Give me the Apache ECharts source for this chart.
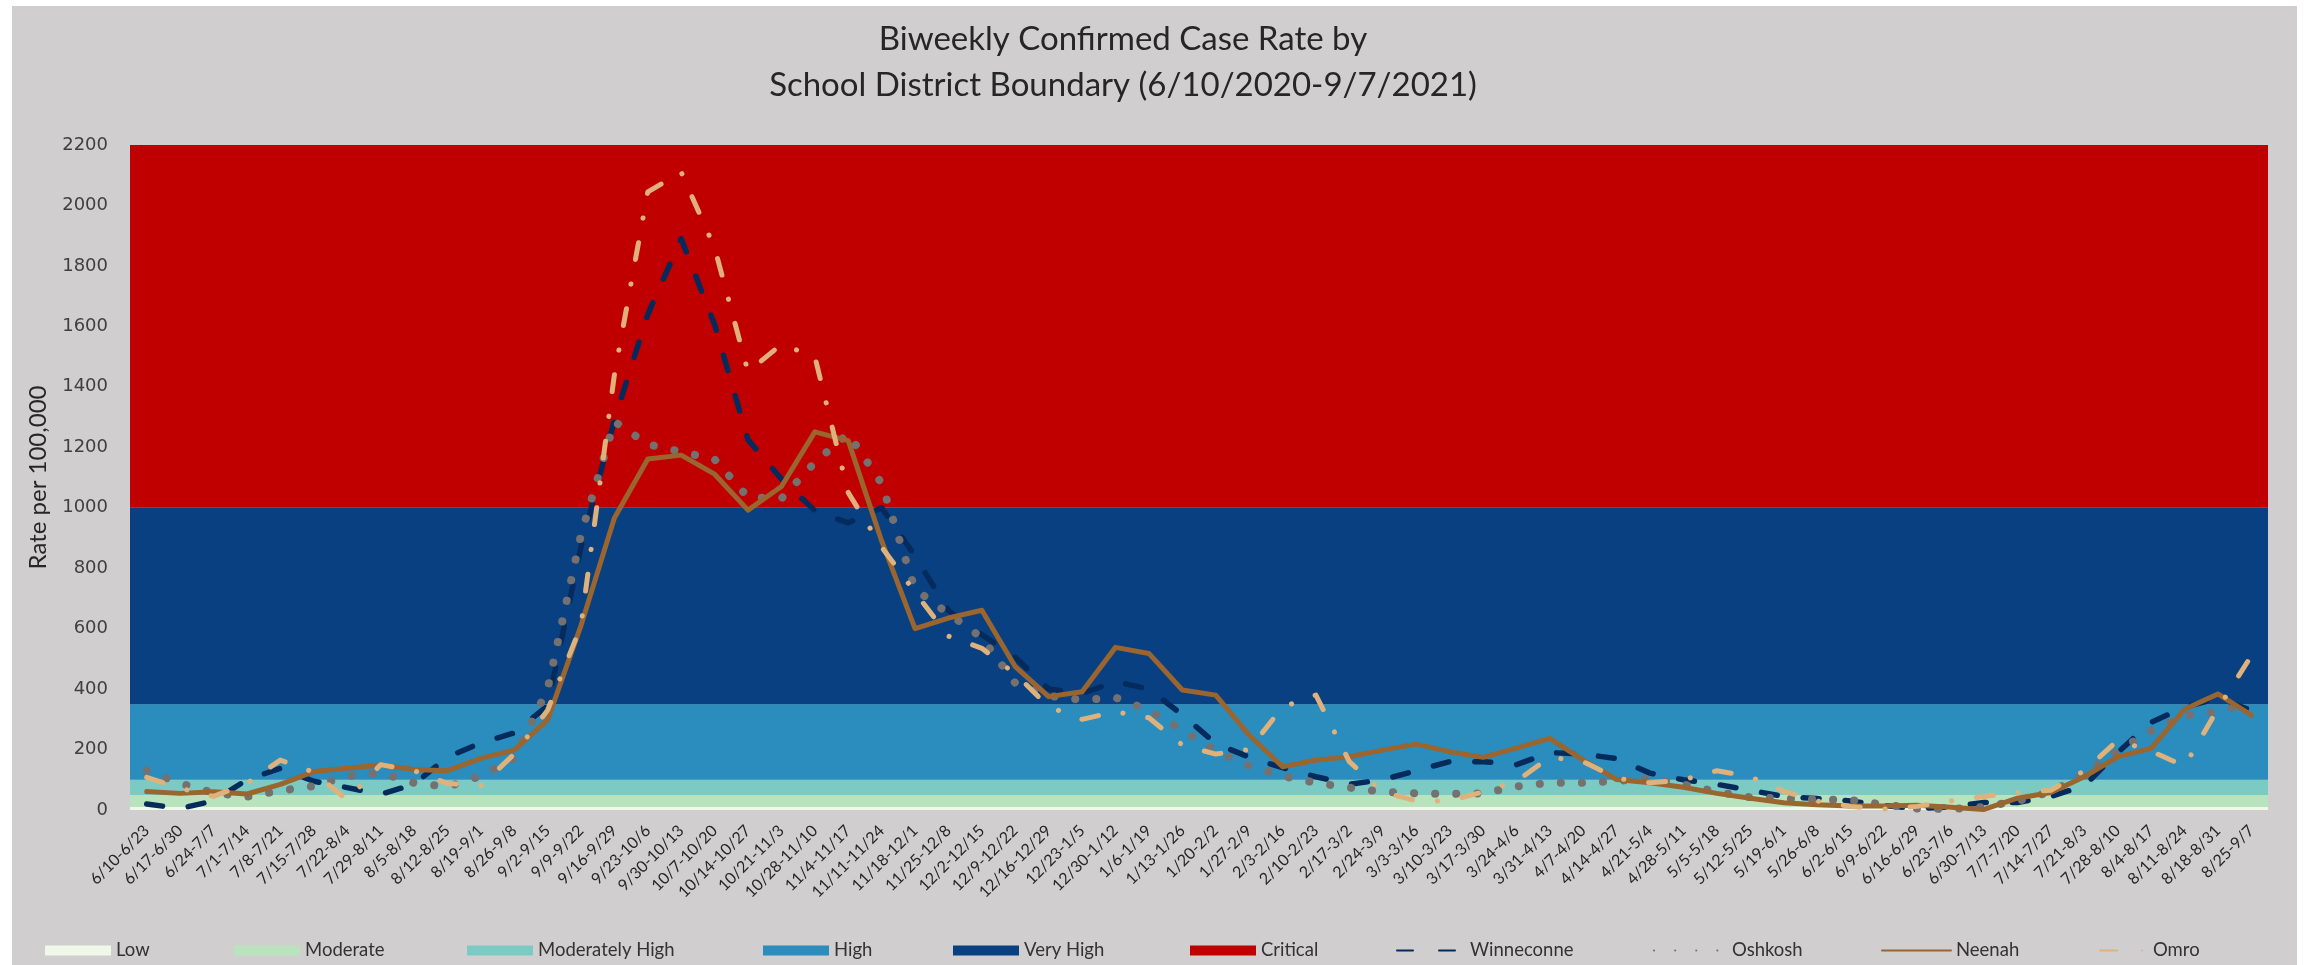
<!DOCTYPE html>
<html>
<head>
<meta charset="utf-8">
<script src="https://cdn.jsdelivr.net/npm/echarts@6/dist/echarts.min.js"></script>
<style>
  html, body { margin:0; padding:0; background:#ffffff; }
  #bg { position:absolute; left:12px; top:6px; width:2285px; height:959px; background:#D0CECE; }
  #chart { position:absolute; left:0; top:0; width:2317px; height:965px; }
</style>
</head>
<body>
<div id="bg"></div>
<div id="chart"></div>
<script>
const categories = ['6/10-6/23','6/17-6/30','6/24-7/7','7/1-7/14','7/8-7/21','7/15-7/28','7/22-8/4','7/29-8/11','8/5-8/18','8/12-8/25','8/19-9/1','8/26-9/8','9/2-9/15','9/9-9/22','9/16-9/29','9/23-10/6','9/30-10/13','10/7-10/20','10/14-10/27','10/21-11/3','10/28-11/10','11/4-11/17','11/11-11/24','11/18-12/1','11/25-12/8','12/2-12/15','12/9-12/22','12/16-12/29','12/23-1/5','12/30-1/12','1/6-1/19','1/13-1/26','1/20-2/2','1/27-2/9','2/3-2/16','2/10-2/23','2/17-3/2','2/24-3/9','3/3-3/16','3/10-3/23','3/17-3/30','3/24-4/6','3/31-4/13','4/7-4/20','4/14-4/27','4/21-5/4','4/28-5/11','5/5-5/18','5/12-5/25','5/19-6/1','5/26-6/8','6/2-6/15','6/9-6/22','6/16-6/29','6/23-7/6','6/30-7/13','7/7-7/20','7/14-7/27','7/21-8/3','7/28-8/10','8/4-8/17','8/11-8/24','8/18-8/31','8/25-9/7'];

const winneconne = [20,5,30,100,138,95,74,52,85,175,222,255,345,870,1290,1640,1890,1606,1225,1095,990,950,1000,840,660,580,505,400,385,425,400,315,220,175,140,110,85,100,130,160,160,150,190,185,170,122,100,85,65,45,38,30,15,5,10,25,25,45,80,190,290,340,370,330];
const oshkosh = [130,88,57,44,64,79,112,123,90,77,112,172,400,910,1285,1210,1185,1160,1035,1030,1150,1245,1080,730,650,570,420,378,364,372,330,265,195,147,112,90,74,60,55,53,55,78,90,90,96,105,85,60,42,38,35,33,18,5,3,10,30,60,120,195,262,312,325,355];
const neenah = [61,55,60,53,85,127,138,149,134,130,171,198,298,610,966,1161,1174,1111,992,1070,1251,1222,890,600,635,661,474,375,391,538,518,397,380,248,143,165,176,198,218,193,174,205,237,165,101,90,75,55,39,24,17,13,13,16,9,2,39,58,110,176,204,333,384,314];
const omro = [108,72,45,88,165,125,33,150,130,88,80,185,330,610,1440,2045,2110,1860,1450,1540,1500,1050,870,720,575,535,450,342,300,325,305,215,185,200,340,380,160,60,30,30,60,95,175,160,105,90,100,130,110,62,30,12,3,12,30,45,58,65,130,230,195,145,335,510];

const bandNames = ['Low','Moderate','Moderately High','High','Very High','Critical'];
const bandEdges = [0,10,50,100,350,1000,2200];
const bandColors = ['#EFF8E9','#B9E3BD','#7BCBC4','#2B8CBE','#084081','#C00000'];

const lineNames = ['Winneconne','Oshkosh','Neenah','Omro'];
const lineData = [winneconne, oshkosh, neenah, omro];
const lineStyles = [
  {color:'#052B5C', width:5.5, type:[16,26], cap:'round', join:'round'},
  {color:'#767171', width:8, type:[0.1,21], cap:'round', join:'round'},
  {color:'#9A652E', width:5, type:'solid', cap:'round', join:'round'},
  {color:'#DFB27C', width:5, type:[17,25,0.1,25], cap:'round', join:'round'}
];

const series = [];
bandNames.forEach((name, i) => {
  series.push({
    name, type:'line', data: categories.map(() => null), symbol:'none', silent:true,
    color: bandColors[i], lineStyle:{width:0}, z:1,
    markArea:{ silent:true, itemStyle:{color: bandColors[i], opacity:1, borderWidth:0},
      data:[[{yAxis: bandEdges[i]}, {yAxis: bandEdges[i+1]}]] }
  });
});
lineNames.forEach((name, i) => {
  series.push({
    name, type:'line', data: lineData[i], symbol:'none', showSymbol:false, z:3+i,
    color: lineStyles[i].color, itemStyle:{color: lineStyles[i].color},
    lineStyle: lineStyles[i]
  });
});

const legendLefts = [40,229,462,758,948,1185,1391,1648,1876,2094];
const legendWidths = [66,66,66,66,66,66,68,73,69,48];
const allNames = bandNames.concat(lineNames);
const legends = allNames.map((name, i) => ({
  data: [i < 6 ? {name, icon:'rect'} : {name}],
  left: legendLefts[i], top: 936,
  itemWidth: legendWidths[i], itemHeight: i < 6 ? 10 : 14, itemGap: 5,
  selectedMode: false,
  itemStyle: i < 6 ? {borderWidth:0} : {opacity:0},
  textStyle: {fontFamily:'Lato', fontSize:18.5, color:'#333333'}
}));

const chart = echarts.init(document.getElementById('chart'), null, {renderer:'canvas'});
chart.setOption({
  backgroundColor:'transparent',
  animation:false,
  title:{
    text:'Biweekly Confirmed Case Rate by\nSchool District Boundary (6/10/2020-9/7/2021)',
    left:1118, top:11, textAlign:'center',
    textStyle:{fontFamily:'Lato', fontSize:33, fontWeight:'normal', color:'#262626', lineHeight:46}
  },
  legend: legends,
  grid:{left:130, right:49, top:145, bottom:155, containLabel:false},
  xAxis:{
    type:'category', data:categories, boundaryGap:true,
    axisLine:{show:false}, axisTick:{show:false}, splitLine:{show:false},
    axisLabel:{interval:0, rotate:45, margin:18, fontFamily:'Lato', fontSize:16, color:'#262626'}
  },
  yAxis:{
    type:'value', min:0, max:2200, interval:200,
    axisLine:{show:false}, axisTick:{show:false}, splitLine:{show:false},
    axisLabel:{margin:22, fontFamily:'DejaVu Sans', fontSize:18, color:'#404040', formatter: v => String(v)},
    name:'Rate per 100,000', nameLocation:'middle', nameGap:80, nameRotate:90,
    nameTextStyle:{fontFamily:'Lato', fontSize:24, color:'#262626'}
  },
  series
});
</script>
</body>
</html>
